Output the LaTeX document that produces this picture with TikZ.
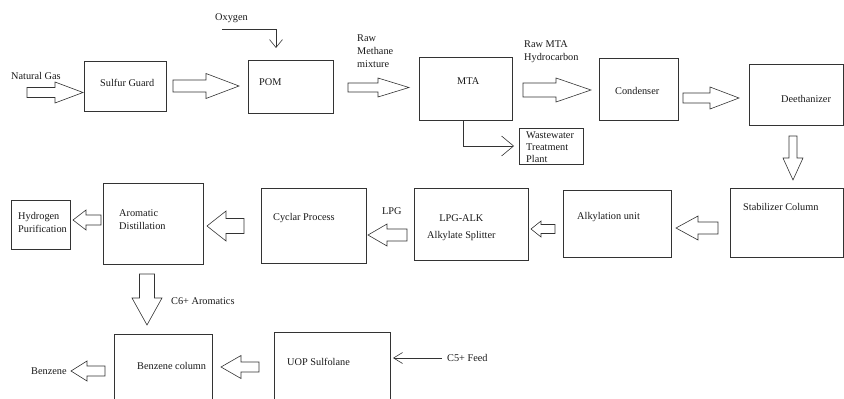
\documentclass[tikz,border=0pt]{standalone}
\usepackage{fontspec}
\setmainfont{Liberation Serif}
\usetikzlibrary{arrows.meta,calc}
\tikzset{
  box/.style={draw=black!80,line width=0.7pt,inner sep=0pt,fill=none},
  lbl/.style={inner sep=0pt,anchor=base west,text=black!90},
  mlbl/.style={inner sep=0pt,anchor=north west,align=left,text=black!90},
  blk/.style={draw=black!80,line width=0.6pt,line join=miter},
  thinarrow/.style={draw=black!80,line width=0.6pt},
}
\newcommand\harrow[6]{\draw[blk] ({#1},{#4-#5}) -- ({#2},{#4-#5}) -- ({#2},{#4-#6}) -- ({#3},{#4}) -- ({#2},{#4+#6}) -- ({#2},{#4+#5}) -- ({#1},{#4+#5}) -- cycle;}
\newcommand\varrow[6]{\draw[blk] ({#4-#5},{#1}) -- ({#4-#5},{#2}) -- ({#4-#6},{#2}) -- ({#4},{#3}) -- ({#4+#6},{#2}) -- ({#4+#5},{#2}) -- ({#4+#5},{#1}) -- cycle;}
\begin{document}
\begin{tikzpicture}[x=1pt,y=-1pt,font=\fontsize{10.3}{12.8}\selectfont]
\useasboundingbox (0,0) rectangle (844,399);
\clip (0,0) rectangle (844,399);
% boxes
\node[box,minimum width=82pt,minimum height=50pt] (sg) at (125,86) {};
\node[box,minimum width=85pt,minimum height=53pt] (pom) at (290.5,86.5) {};
\node[box,minimum width=93pt,minimum height=63pt] (mta) at (465.5,88.5) {};
\node[box,minimum width=64pt,minimum height=36pt] (wwt) at (551,146) {};
\node[box,minimum width=79pt,minimum height=62pt] (cond) at (638.5,89) {};
\node[box,minimum width=94pt,minimum height=61pt] (deeth) at (796,94.5) {};
\node[box,minimum width=113pt,minimum height=69pt] (stab) at (786.5,222.5) {};
\node[box,minimum width=108pt,minimum height=67pt] (alk) at (617,223.5) {};
\node[box,minimum width=114pt,minimum height=72pt] (lpgalk) at (471,224) {};
\node[box,minimum width=105pt,minimum height=75pt] (cyc) at (313.5,225.5) {};
\node[box,minimum width=100pt,minimum height=81pt] (arom) at (153,223.5) {};
\node[box,minimum width=59pt,minimum height=49pt] (hyd) at (40.5,224.5) {};
\node[box,minimum width=98pt,minimum height=76pt] (benz) at (163,372) {};
\node[box,minimum width=116pt,minimum height=78pt] (uop) at (332,371) {};
% labels
\node[lbl] (tng) at (11,79.4) {Natural Gas};
\node[lbl] (tsg) at (100,86.4) {Sulfur Guard};
\node[lbl] (tox) at (215,20.5) {Oxygen};
\node[lbl] (tpom) at (259,85.4) {POM};
\node[mlbl] (trm) at (357,34.5) {Raw\\Methane\\mixture};
\node[lbl] (tmta) at (457,84.4) {MTA};
\node[mlbl] (trh) at (524,40.5) {Raw MTA\\Hydrocarbon};
\node[mlbl,font=\fontsize{10.3}{12}\selectfont] (tww) at (526,131.5) {Wastewater\\Treatment\\Plant};
\node[lbl] (tcond) at (615,94.4) {Condenser};
\node[lbl] (tdeeth) at (781,102.4) {Deethanizer};
\node[lbl] (tstab) at (743,210.4) {Stabilizer Column};
\node[lbl] (talk) at (577,219.4) {Alkylation unit};
\node[mlbl,align=center,font=\fontsize{10.3}{17}\selectfont] (tlpgalk) at (427,214.5) {LPG-ALK\\Alkylate Splitter};
\node[lbl] (tlpg) at (382,214.4) {LPG};
\node[lbl] (tcyc) at (273,220.4) {Cyclar Process};
\node[mlbl,font=\fontsize{10.3}{13}\selectfont] (tarom) at (119,209.5) {Aromatic\\Distillation};
\node[mlbl,font=\fontsize{10.3}{13}\selectfont] (thyd) at (18,212.5) {Hydrogen\\Purification};
\node[lbl] (tc6) at (171,304.4) {C6+ Aromatics};
\node[lbl] (tbenz) at (137,369.4) {Benzene column};
\node[lbl] (tuop) at (287,365.4) {UOP Sulfolane};
\node[lbl] (tbz) at (31,374.4) {Benzene};
\node[lbl] (tc5) at (447,361.4) {C5+ Feed};
% block arrows
\harrow{27}{55}{83}{92.5}{5}{10.5}
\harrow{173}{206}{239}{86}{6}{12.5}
\harrow{348}{378}{409}{87.5}{4.5}{9.5}
\harrow{523}{556}{591}{90}{7}{12}
\harrow{683}{710}{739}{98}{5}{11}
\varrow{136}{158}{180}{793}{4}{10}
\harrow{718}{698}{676}{228}{6}{12}
\harrow{555}{541}{531}{229}{4.5}{8}
\harrow{407}{387}{368}{235}{6}{11}
\harrow{244}{226}{207}{226}{7.5}{15}
\harrow{101}{86}{73}{220}{5}{10}
\varrow{274}{298}{325}{147}{7.5}{15}
\harrow{259}{241}{221}{367}{5}{11.5}
\harrow{105}{87}{71}{371}{5}{10}
% thin arrows
\coordinate (ox0) at (222,29);
\coordinate (ox1) at (276,48);
\draw[thinarrow,-{Straight Barb[length=8pt,width=13pt]}] (ox0) -| (ox1);
\coordinate (ww0) at ($(mta.south west)+(45,0)$);
\coordinate (ww1) at (514,146);
\draw[thinarrow,-{Straight Barb[length=12pt,width=20pt]}] (ww0) |- (ww1);
\coordinate (c50) at (442,358);
\coordinate (c51) at (393,358);
\draw[thinarrow,-{Straight Barb[length=9pt,width=11pt]}] (c50) -- (c51);
\end{tikzpicture}
\end{document}
